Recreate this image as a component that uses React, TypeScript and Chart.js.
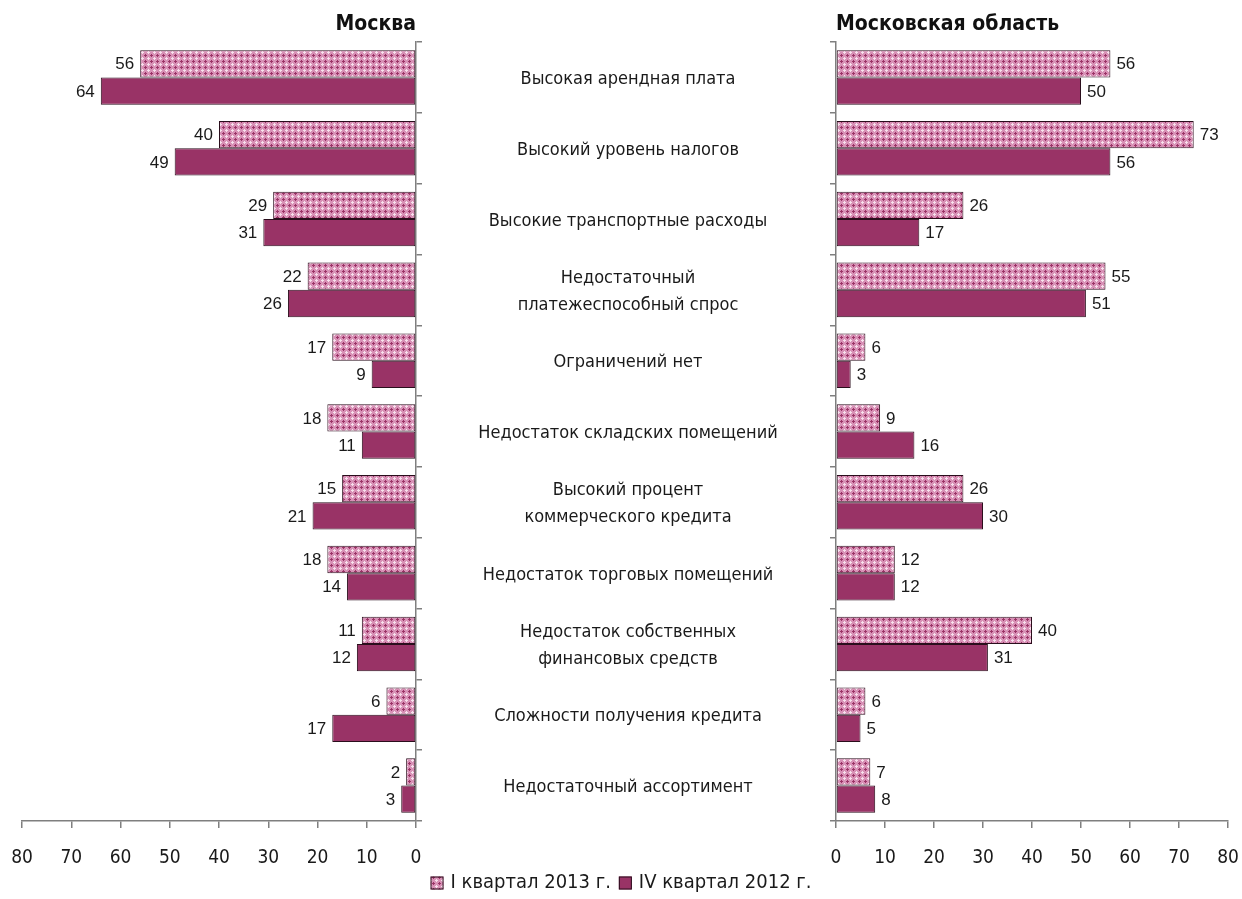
import React, { useEffect, useRef } from 'react';
import { Chart, registerables } from 'chart.js';
Chart.register(...registerables);

const categories: (string | string[])[] = [
  'Высокая арендная плата',
  'Высокий уровень налогов',
  'Высокие транспортные расходы',
  ['Недостаточный', 'платежеспособный спрос'],
  'Ограничений нет',
  'Недостаток складских помещений',
  ['Высокий процент', 'коммерческого кредита'],
  'Недостаток торговых помещений',
  ['Недостаток собственных', 'финансовых средств'],
  'Сложности получения кредита',
  'Недостаточный ассортимент',
];
const moscowQ1_2013 = [56, 40, 29, 22, 17, 18, 15, 18, 11, 6, 2];
const moscowQ4_2012 = [64, 49, 31, 26, 9, 11, 21, 14, 12, 17, 3];
const regionQ1_2013 = [56, 73, 26, 55, 6, 9, 26, 12, 40, 6, 7];
const regionQ4_2012 = [50, 56, 17, 51, 3, 16, 30, 12, 31, 5, 8];
const seriesLabels = ['I квартал 2013 г.', 'IV квартал 2012 г.'];
const panelTitles = ['Москва', 'Московская область'];
const xMin = 0;
const xMax = 80;
const xStep = 10;

const SOLID = '#993366';
const BORDER = '#2a0e1c';
const AXIS = '#7f7f7f';
const FONT = '"DejaVu Sans Condensed", "DejaVu Sans", sans-serif';
const NARROW = '"Liberation Sans Narrow", "Liberation Sans", Arial, sans-serif';

function makePattern(): CanvasPattern | string {
  const c = document.createElement('canvas');
  c.width = 6;
  c.height = 6;
  const g = c.getContext('2d');
  if (!g) return SOLID;
  g.fillStyle = '#d891b6';
  g.fillRect(0, 0, 6, 6);
  g.fillStyle = '#9b3366';
  g.fillRect(0, 1, 3, 1);
  g.fillRect(1, 0, 1, 3);
  g.fillStyle = '#f7e0ec';
  g.fillRect(3, 4, 3, 1);
  g.fillRect(4, 3, 1, 3);
  const p = g.createPattern(c, 'repeat');
  return p || SOLID;
}

const App: React.FC = () => {
  const leftRef = useRef<HTMLCanvasElement>(null);
  const rightRef = useRef<HTMLCanvasElement>(null);

  useEffect(() => {
    if (!leftRef.current || !rightRef.current) return;
    const pattern = makePattern();

    const xTickFont = { family: FONT, size: 19 };

    const barLabels = (side: 'left' | 'right') => ({
      id: 'barLabels_' + side,
      afterDatasetsDraw(chart: any) {
        const ctx = chart.ctx;
        ctx.save();
        ctx.font = `17px ${NARROW}`;
        ctx.fillStyle = '#1a1a1a';
        ctx.textBaseline = 'middle';
        chart.data.datasets.forEach((ds: any, di: number) => {
          const meta = chart.getDatasetMeta(di);
          meta.data.forEach((el: any, i: number) => {
            const v = ds.data[i];
            if (side === 'left') {
              ctx.textAlign = 'right';
              ctx.fillText(String(v), el.x - 6, el.y + 1);
            } else {
              ctx.textAlign = 'left';
              ctx.fillText(String(v), el.x + 6, el.y + 1);
            }
          });
        });
        ctx.restore();
      },
    });

    const titlePlugin = (side: 'left' | 'right') => ({
      id: 'panelTitle_' + side,
      afterDraw(chart: any) {
        const ctx = chart.ctx;
        const a = chart.chartArea;
        ctx.save();
        ctx.font = `bold 21px ${FONT}`;
        ctx.fillStyle = '#111';
        ctx.textBaseline = 'alphabetic';
        if (side === 'left') {
          ctx.textAlign = 'right';
          ctx.fillText(panelTitles[0], a.right, 30);
        } else {
          ctx.textAlign = 'left';
          ctx.fillText(panelTitles[1], a.left, 30);
        }
        ctx.restore();
      },
    });

    const centerLabels = {
      id: 'centerLabels',
      afterDraw(chart: any) {
        const ctx = chart.ctx;
        const y = chart.scales.y;
        ctx.save();
        ctx.font = `18px ${FONT}`;
        ctx.fillStyle = '#1a1a1a';
        ctx.textAlign = 'center';
        ctx.textBaseline = 'middle';
        const cx = 628;
        categories.forEach((lab, i) => {
          const yc = y.getPixelForValue(i) + 2;
          const lines = Array.isArray(lab) ? lab : [lab];
          const lh = 27;
          lines.forEach((ln, k) => {
            ctx.fillText(ln, cx, yc + (k - (lines.length - 1) / 2) * lh);
          });
        });
        ctx.restore();
      },
    };

    const legendPlugin = {
      id: 'customLegend',
      afterDraw(chart: any) {
        const ctx = chart.ctx;
        ctx.save();
        ctx.font = `20px ${FONT}`;
        ctx.textBaseline = 'middle';
        ctx.textAlign = 'left';
        const box = 13;
        const w1 = ctx.measureText(seriesLabels[0]).width;
        const w2 = ctx.measureText(seriesLabels[1]).width;
        const total = box + 7 + w1 + 8 + box + 7 + w2;
        let x = 621 - total / 2;
        const yc = 883;
        const fills = [pattern, SOLID];
        [w1, w2].forEach((w, i) => {
          ctx.fillStyle = fills[i] as any;
          ctx.fillRect(x, yc - box / 2, box, box);
          ctx.strokeStyle = BORDER;
          ctx.lineWidth = 1;
          ctx.strokeRect(x + 0.5, yc - box / 2 + 0.5, box - 1, box - 1);
          x += box + 7;
          ctx.fillStyle = '#1a1a1a';
          ctx.fillText(seriesLabels[i], x, yc);
          x += w + 8;
        });
        ctx.restore();
      },
    };

    const makeDatasets = (a: number[], b: number[]) => [
      {
        label: seriesLabels[0],
        data: a,
        backgroundColor: pattern as any,
        borderColor: BORDER,
        borderWidth: 1,
        borderSkipped: false,
        barPercentage: 1,
        categoryPercentage: 0.77,
      },
      {
        label: seriesLabels[1],
        data: b,
        backgroundColor: SOLID,
        borderColor: BORDER,
        borderWidth: 1,
        borderSkipped: false,
        barPercentage: 1,
        categoryPercentage: 0.77,
      },
    ];

    const xScale = (reverse: boolean) => ({
      type: 'linear' as const,
      reverse,
      min: xMin,
      max: xMax,
      ticks: {
        stepSize: xStep,
        font: xTickFont,
        color: '#1a1a1a',
        padding: 19,
        maxRotation: 0,
      },
      grid: { drawOnChartArea: false, tickLength: 7, color: AXIS, lineWidth: 1.5 },
      border: { color: AXIS, width: 1.5 },
      afterFit: (s: any) => {
        s.height = 78;
        s.paddingLeft = 0;
        s.paddingRight = 0;
      },
    });

    const yScale = (position: 'left' | 'right') => ({
      type: 'category' as const,
      position,
      ticks: { display: false },
      grid: { drawOnChartArea: false, tickLength: 6, color: AXIS, lineWidth: 1.5, offset: true },
      border: { color: AXIS, width: 1.5 },
      afterFit: (s: any) => {
        s.width = 7;
        s.paddingTop = 0;
        s.paddingBottom = 0;
      },
    });

    const labels = categories.map((c) => (Array.isArray(c) ? c.join(' ') : c));

    const left = new Chart(leftRef.current, {
      type: 'bar',
      data: { labels, datasets: makeDatasets(moscowQ1_2013, moscowQ4_2012) as any },
      options: {
        indexAxis: 'y',
        animation: false,
        responsive: false,
        devicePixelRatio: 1,
        layout: { padding: { top: 42, left: 22, right: 819, bottom: 0 } },
        scales: { x: xScale(true), y: yScale('right') } as any,
        plugins: { legend: { display: false }, tooltip: { enabled: false } },
      },
      plugins: [barLabels('left'), titlePlugin('left')],
    });

    const right = new Chart(rightRef.current, {
      type: 'bar',
      data: { labels, datasets: makeDatasets(regionQ1_2013, regionQ4_2012) as any },
      options: {
        indexAxis: 'y',
        animation: false,
        responsive: false,
        devicePixelRatio: 1,
        layout: { padding: { top: 42, left: 829, right: 14, bottom: 0 } },
        scales: { x: xScale(false), y: yScale('left') } as any,
        plugins: { legend: { display: false }, tooltip: { enabled: false } },
      },
      plugins: [barLabels('right'), titlePlugin('right'), centerLabels, legendPlugin],
    });

    return () => {
      left.destroy();
      right.destroy();
    };
  }, []);

  const cstyle: React.CSSProperties = {
    position: 'absolute',
    left: 0,
    top: 0,
    width: 1242,
    height: 899,
  };

  return (
    <div style={{ position: 'absolute', left: 0, top: 0, width: 1242, height: 899, background: '#fff' }}>
      <canvas ref={leftRef} width={1242} height={899} style={cstyle} />
      <canvas ref={rightRef} width={1242} height={899} style={cstyle} />
    </div>
  );
};

export default App;
